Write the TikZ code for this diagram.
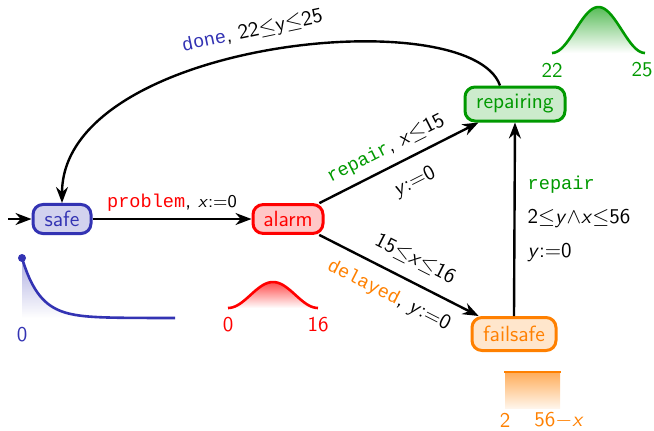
\documentclass[tikz,border=0pt]{standalone}
\usepackage{fontspec}
\newfontfamily\codefont{Liberation Mono}
\usetikzlibrary{arrows.meta,calc}
\renewcommand{\familydefault}{\sfdefault}

\definecolor{cblue}{RGB}{51,51,179}
\definecolor{cred}{RGB}{255,0,0}
\definecolor{cgreen}{RGB}{0,153,0}
\definecolor{corange}{RGB}{255,128,0}

% action names in typewriter, variables in slanted sans
\newcommand{\act}[2]{{\codefont\fontsize{9.3}{11}\selectfont\color{#1}#2}}
\newcommand{\varx}{\textit{x}}
\newcommand{\vary}{\textit{y}}

\begin{document}
\begin{tikzpicture}[x=0.5pt,y=-0.5pt,
  state/.style={draw, rounded corners=5pt, line width=1.5pt, inner xsep=3pt,
                font=\fontsize{11}{13}\selectfont},
  trans/.style={line width=1.2pt, -{Stealth[length=8pt,width=6pt]}},
  lbl/.style={font=\fontsize{10.5}{12}\selectfont, inner sep=1pt},
  axlbl/.style={font=\fontsize{10.5}{12}\selectfont, inner sep=0pt},
  curve/.style={line width=1.3pt},
]
\useasboundingbox (0,0) rectangle (654,430);

% locations
\node[state, draw=cblue, fill=cblue!22, text=cblue, minimum width=29pt, minimum height=14pt] (safe) at (62,219) {safe};
\node[state, draw=cred, fill=cred!22, text=cred, minimum width=35pt, minimum height=14pt] (alarm) at (288,219) {alarm};
\node[state, draw=cgreen, fill=cgreen!20, text=cgreen, minimum width=50pt, minimum height=17pt] (repairing) at (515,104) {repairing};
\node[state, draw=corange, fill=corange!20, text=corange, minimum width=42pt, minimum height=16.5pt] (failsafe) at (514,334) {failsafe};

% initial arrow
\coordinate (init) at (8,219);
\draw[trans] (init) -- (safe);

% transitions
\draw[trans] (safe) -- node[lbl, above=2pt] (lproblem) {\act{cred}{problem}, {\fontsize{9}{11}\selectfont\varx:=0}} (alarm);

\draw[trans] (alarm) -- node[lbl, sloped, above=3pt, pos=0.47] (lrep) {\act{cgreen}{repair}, \varx$\leq$15}
                        node[lbl, sloped, below=6pt, pos=0.53] (lrepy) {\vary:=0} (repairing);

\draw[trans] (alarm) -- node[lbl, sloped, above=5pt, pos=0.54] (ldelg) {15$\leq$\varx$\leq$16}
                        node[lbl, sloped, below=5pt, pos=0.5] (ldel) {\act{corange}{delayed}, \vary:=0} (failsafe);

\draw[trans] (failsafe.north) -- node[lbl, right=5pt, align=left, pos=0.5] (lfs)
  {\act{cgreen}{repair}\\[5pt] 2$\leq$\vary$\wedge$\varx$\leq$56\\[5pt] \vary:=0} (repairing.south);

\coordinate (rtop) at ($(repairing.north)+(-15,0)$);
\draw[trans] (rtop) .. controls (470,0) and (62,40) .. node[lbl, sloped, above=5pt, pos=0.52] (ldone) {\act{cblue}{done}, 22$\leq$y$\leq$25} (safe.north);

% delay distributions
% safe: exponential
\shade[top color=cblue!40, bottom color=white]
  (22,258) -- plot[domain=0:153, samples=60] ({22+\x},{318-60*exp(-\x/18)}) -- (22,318) -- cycle;
\draw[curve, cblue] plot[domain=0:153, samples=60] ({22+\x},{318-60*exp(-\x/18)});
\fill[cblue] (22,258) circle (2pt);
\node[axlbl, text=cblue] (s0) at (22,335) {0};

% alarm: bell on [0,16]
\shade[top color=cred!70, bottom color=white]
  plot[domain=0:1, samples=40] ({228+90*\x},{308-26*(0.5-0.5*cos(360*\x))}) -- cycle;
\draw[curve, cred] plot[domain=0:1, samples=40] ({228+90*\x},{308-26*(0.5-0.5*cos(360*\x))});
\node[axlbl, text=cred] (a0) at (228,325) {0};
\node[axlbl, text=cred] (a16) at (318,325) {16};

% repairing: bell on [22,25]
\shade[top color=cgreen!65, bottom color=white]
  plot[domain=0:1, samples=40] ({552+93*\x},{53-46*(0.5-0.5*cos(360*\x))}) -- cycle;
\draw[curve, cgreen] plot[domain=0:1, samples=40] ({552+93*\x},{53-46*(0.5-0.5*cos(360*\x))});
\node[axlbl, text=cgreen] (r22) at (552,70) {22};
\node[axlbl, text=cgreen] (r25) at (642,70) {25};

% failsafe: uniform on [2,56-x]
\shade[top color=corange!65, bottom color=corange!8] (505,372) rectangle (560,408);
\draw[curve, corange] (504,372) -- (561,372);
\node[axlbl, text=corange] (f2) at (505,420) {2};
\node[axlbl, text=corange] (f56) at (559,420) {56$-$\varx};
\end{tikzpicture}
\end{document}
